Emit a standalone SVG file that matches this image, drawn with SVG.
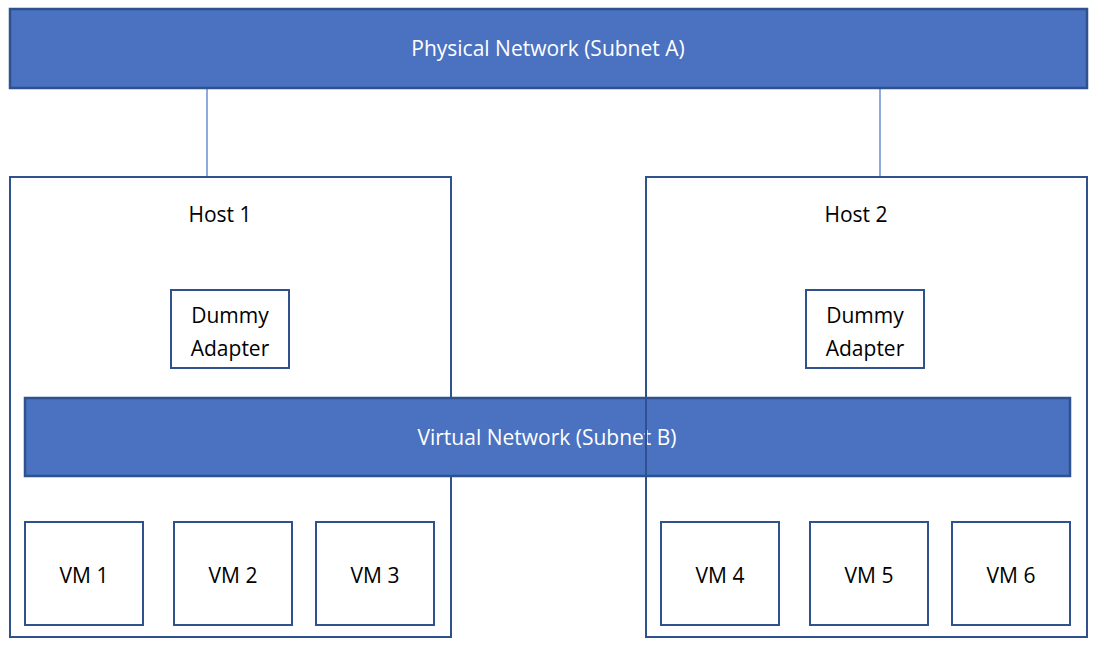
<svg xmlns="http://www.w3.org/2000/svg" width="1108" height="651" viewBox="0 0 1108 651">
<style>
.bar{fill:#4a72c0;stroke:#2f528f;stroke-width:2.5}
.box{fill:#fff;stroke:#2f528f;stroke-width:2}
.out{fill:none;stroke:#2f528f;stroke-width:2}
.w{fill:#fff;font-family:"Open Sans","Liberation Sans",sans-serif;font-size:21px;text-anchor:middle}
.t{fill:#000;font-family:"Open Sans","Liberation Sans",sans-serif;font-size:21px;text-anchor:middle}
.c{stroke:#4472c4;stroke-width:1.2;fill:none}
.k{stroke:#000;stroke-width:1.2;fill:none}
</style>
<rect width="1108" height="651" fill="#fff"/>
<g id="connectors">
<line class="c" x1="207" y1="88" x2="207" y2="177"/>
<line class="c" x1="880" y1="88" x2="880" y2="177"/>
<line class="c" x1="245" y1="368" x2="245" y2="398"/>
<line class="c" x1="880" y1="368" x2="880" y2="398"/>
<line class="c" x1="231" y1="476" x2="231" y2="500"/>
<line class="k" x1="85" y1="500" x2="386" y2="500"/>
<line class="c" x1="85" y1="500" x2="86" y2="522"/>
<line class="c" x1="245" y1="500" x2="245" y2="522"/>
<line class="c" x1="386" y1="500" x2="386" y2="522"/>
<line class="c" x1="866" y1="476" x2="866" y2="500"/>
<line class="k" x1="720" y1="500" x2="1022" y2="500"/>
<line class="c" x1="720" y1="500" x2="721" y2="522"/>
<line class="c" x1="880" y1="500" x2="880" y2="522"/>
<line class="c" x1="1022" y1="500" x2="1022" y2="522"/>
</g>
<g id="physical"><rect class="bar" x="10" y="9" width="1077" height="79"/><text class="w" x="548" y="56">Physical Network (Subnet A)</text></g>
<g id="host1"><rect class="box" x="10" y="177" width="441" height="460"/><text class="t" x="220" y="222">Host 1</text></g>
<g id="host2"><rect class="box" x="646" y="177" width="441" height="460"/><text class="t" x="856" y="222">Host 2</text></g>
<g id="dummy1"><rect class="box" x="171" y="290" width="118" height="78"/><text class="t" x="230" y="323">Dummy</text><text class="t" x="230" y="356">Adapter</text></g>
<g id="dummy2"><rect class="box" x="806" y="290" width="118" height="78"/><text class="t" x="865" y="323">Dummy</text><text class="t" x="865" y="356">Adapter</text></g>
<g id="virtual"><rect class="bar" x="25" y="398" width="1045" height="78"/><text class="w" x="547" y="445">Virtual Network (Subnet B)</text></g>
<rect class="out" x="646" y="177" width="441" height="460"/>
<g id="vm1"><rect class="box" x="25" y="522" width="118" height="103"/><text class="t" x="84" y="583">VM 1</text></g>
<g id="vm2"><rect class="box" x="174" y="522" width="118" height="103"/><text class="t" x="233" y="583">VM 2</text></g>
<g id="vm3"><rect class="box" x="316" y="522" width="118" height="103"/><text class="t" x="375" y="583">VM 3</text></g>
<g id="vm4"><rect class="box" x="661" y="522" width="118" height="103"/><text class="t" x="720" y="583">VM 4</text></g>
<g id="vm5"><rect class="box" x="810" y="522" width="118" height="103"/><text class="t" x="869" y="583">VM 5</text></g>
<g id="vm6"><rect class="box" x="952" y="522" width="118" height="103"/><text class="t" x="1011" y="583">VM 6</text></g>
</svg>
